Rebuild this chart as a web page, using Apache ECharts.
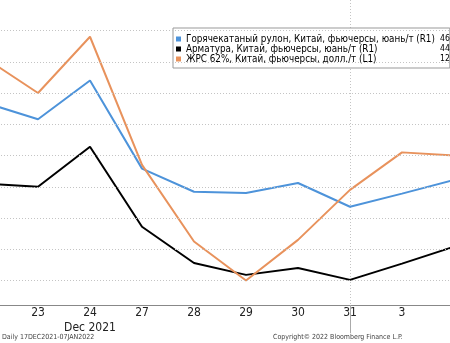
<!DOCTYPE html>
<html>
<head>
<meta charset="utf-8">
<script src="https://cdn.jsdelivr.net/npm/echarts@6/dist/echarts.min.js"></script>
<style>html,body{margin:0;padding:0;background:#fff;}#c{width:450px;height:343px;}</style>
</head>
<body>
<div id="c"></div>
<script>
const categories = ['22', '23', '24', '27', '28', '29', '30', '31', '3', '4'];
const hrc = [4634, 4608, 4670, 4529, 4492, 4490, 4506, 4468, 4489, 4511];
const rebar = [4505, 4500, 4564, 4436, 4378, 4359, 4370, 4351, 4377, 4404];
const ironOre = [131.2, 129.0, 132.6, 124.4, 119.5, 117.0, 119.6, 122.8, 125.2, 125.0];
const gridValues = [4350, 4400, 4450, 4500, 4550, 4600, 4650, 4700, 4750];
const seriesNames = [
  'Горячекатаный рулон, Китай, фьючерсы, юань/т (R1)',
  'Арматура, Китай, фьючерсы, юань/т (R1)',
  'ЖРС 62%, Китай, фьючерсы, долл./т (L1)'
];
const legendValues = ['46', '44', '12'];
const monthLabel = 'Dec 2021';
const monthAt = '24';
const yearBoundary = '31';
const footerLeft = 'Daily 17DEC2021-07JAN2022';
const footerRight = 'Copyright© 2022 Bloomberg Finance L.P.';

const FONT = '"DejaVu Sans Condensed", "Liberation Sans", sans-serif';
const colors = ['#4d93da', '#000000', '#e8925c'];
const chart = echarts.init(document.getElementById('c'), null, {renderer: 'canvas'});
const valMap = {};
seriesNames.forEach((n, i) => valMap[n] = legendValues[i]);

chart.setOption({
  animation: false,
  backgroundColor: '#fff',
  title: [
    {text: footerLeft, left: 2, top: 334, textStyle: {fontSize: 7, fontWeight: 'normal', color: '#444', fontFamily: FONT}, padding: 0},
    {text: footerRight, left: 273, top: 334, textStyle: {fontSize: 7, fontWeight: 'normal', color: '#444', fontFamily: FONT}, padding: 0}
  ],
  legend: {
    orient: 'vertical',
    left: 173,
    top: 28,
    padding: [6, 0, 4, 3],
    itemGap: 0,
    itemWidth: 5,
    itemHeight: 5,
    itemTextGap: 2,
    icon: 'rect',
    borderColor: '#999',
    borderWidth: 1,
    backgroundColor: '#fff',
    data: seriesNames,
    formatter: name => '{n|' + name + '}{v|' + valMap[name] + '}',
    textStyle: {
      fontFamily: FONT, fontSize: 9.8, color: '#000', lineHeight: 9.7,
      rich: {
        n: {width: 254, fontFamily: FONT, fontSize: 9.8, color: '#000', lineHeight: 9.7},
        v: {fontFamily: FONT, fontSize: 8.6, color: '#000', lineHeight: 9.7}
      }
    }
  },
  grid: {left: -14, right: -4, top: 0, bottom: 38, containLabel: false, outerBoundsMode: 'none'},
  xAxis: {
    type: 'category',
    data: categories,
    boundaryGap: false,
    axisLine: {show: true, lineStyle: {color: '#888', width: 1}},
    axisTick: {
      show: true, length: 28, inside: false,
      interval: (i, v) => v === yearBoundary,
      lineStyle: {color: '#aaa', width: 1}
    },
    axisLabel: {
      interval: 0, margin: 0, hideOverlap: false,
      fontFamily: FONT, fontSize: 12, color: '#222', lineHeight: 15,
      formatter: v => v === monthAt ? v + '\n' + monthLabel : v
    },
    splitLine: {
      show: true,
      interval: (i, v) => v === yearBoundary,
      lineStyle: {color: '#c4c4c4', type: [1, 2], width: 1}
    }
  },
  yAxis: [
    {type: 'value', position: 'left', min: 115.432, max: 134.952,
     axisLine: {show: false}, axisTick: {show: false}, axisLabel: {show: false}, splitLine: {show: false}},
    {type: 'value', position: 'right', min: 4310.8, max: 4798.8,
     axisLine: {show: false}, axisTick: {show: false}, axisLabel: {show: false}, splitLine: {show: false}}
  ],
  series: [
    {
      name: 'grid', type: 'line', yAxisIndex: 1, data: [], z: 1, silent: true,
      markLine: {
        silent: true, symbol: ['none', 'none'], label: {show: false},
        lineStyle: {color: '#c4c4c4', type: [1, 2], width: 1},
        data: gridValues.map(v => ({yAxis: v}))
      }
    },
    {name: seriesNames[0], type: 'line', yAxisIndex: 1, data: hrc, showSymbol: false, symbol: 'none', clip: false, z: 3,
     itemStyle: {color: colors[0]}, lineStyle: {color: colors[0], width: 2}},
    {name: seriesNames[1], type: 'line', yAxisIndex: 1, data: rebar, showSymbol: false, symbol: 'none', clip: false, z: 3,
     itemStyle: {color: colors[1]}, lineStyle: {color: colors[1], width: 2}},
    {name: seriesNames[2], type: 'line', yAxisIndex: 0, data: ironOre, showSymbol: false, symbol: 'none', clip: false, z: 3,
     itemStyle: {color: colors[2]}, lineStyle: {color: colors[2], width: 2}}
  ]
});
</script>
</body>
</html>
